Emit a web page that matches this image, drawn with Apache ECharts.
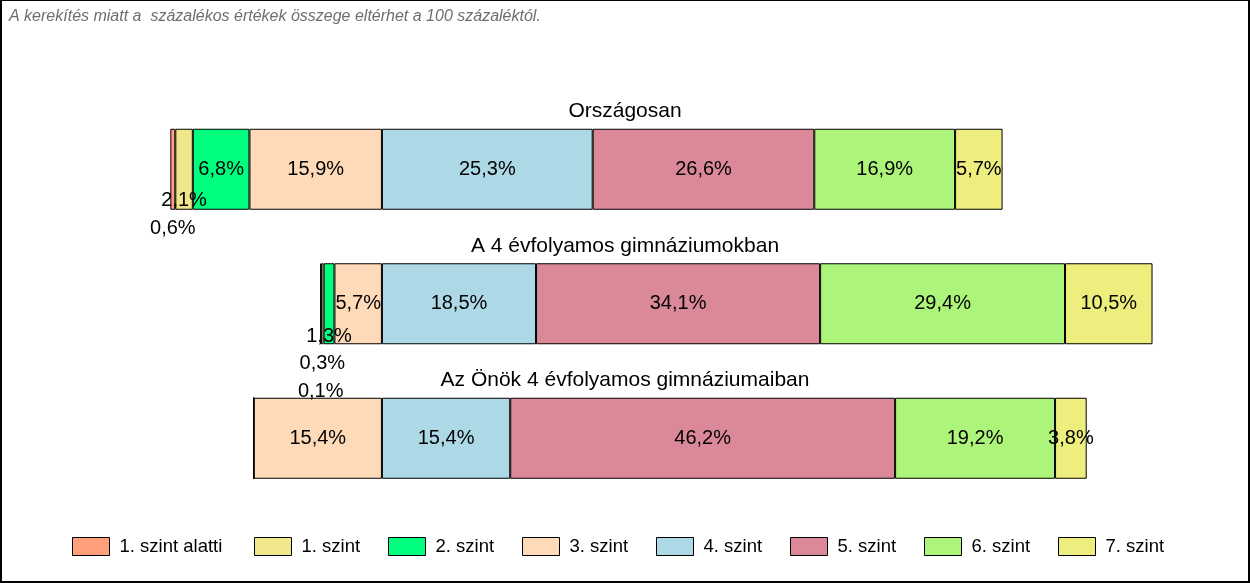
<!DOCTYPE html>
<html>
<head>
<meta charset="utf-8">
<script src="https://cdn.jsdelivr.net/npm/echarts@6/dist/echarts.min.js"></script>
<style>
  html, body { margin: 0; padding: 0; background: #fff; }
  #frame {
    position: relative;
    width: 1250px; height: 583px;
    box-sizing: border-box;
    border: 2px solid #000;
    border-top-width: 1px;
    overflow: hidden;
  }
  #chart { position: absolute; left: -2px; top: -1px; width: 1250px; height: 583px; }
</style>
</head>
<body>
<div id="frame"><div id="chart"></div></div>
<script>
// csoportok (felülről lefelé)
const categories = ['Országosan', 'A 4 évfolyamos gimnáziumokban', 'Az Önök 4 évfolyamos gimnáziumaiban']

// szintek sorrendje a jelmagyarázatban
const levels = ['1. szint alatti', '1. szint', '2. szint', '3. szint', '4. szint', '5. szint', '6. szint', '7. szint']
const colors = ['#FFA07A', '#F0E68C', '#00FF7F', '#FFDAB9', '#ADD8E6', '#DB8898', '#ADF57A', '#EEEE7E']

// százalékos értékek, csoportonként
const szintAlatti = [0.6, 0.1, 0]
const szint1 = [2.1, 0.3, 0]
const szint2 = [6.8, 1.3, 0]
const szint3 = [15.9, 5.7, 15.4]
const szint4 = [25.3, 18.5, 15.4]
const szint5 = [26.6, 34.1, 46.2]
const szint6 = [16.9, 29.4, 19.2]
const szint7 = [5.7, 10.5, 3.8]

const note = 'A kerekítés miatt a  százalékos értékek összege eltérhet a 100 százaléktól.'

const FONT = '"Liberation Sans", Arial, sans-serif'

// a kis szeletek címkéi a sáv alá csúsznak
const labelShift = {
  '1. szint alatti': [59, 88, 0],
  '1. szint': [31, 60, 0],
  '2. szint': [0, 33, 0]
}

// jelmagyarázat elemeinek bal széle
const legendLeft = [72, 254, 388, 522, 656, 790, 924, 1058]

function fmt(v) {
  return Math.abs(v).toFixed(1).replace('.', ',') + '%'
}

function makeSeries(name, values, negative) {
  let shift = labelShift[name]
  return {
    name: name,
    type: 'bar',
    stack: 'total',
    barWidth: 81,
    itemStyle: { color: colors[levels.indexOf(name)], borderColor: '#000', borderWidth: 1 },
    label: {
      show: true,
      position: 'inside',
      color: '#000',
      fontFamily: FONT,
      fontSize: 20,
      formatter: p => p.value === 0 ? '' : fmt(p.value)
    },
    data: values.map((v, i) => {
      let item = { value: negative ? -v : v }
      if (shift && shift[i]) item.label = { offset: [0, shift[i]] }
      return item
    })
  }
}

// balra (negatív irányba) a 3. szinttől kifelé, jobbra a 4. szinttől
const series = [
  makeSeries('3. szint', szint3, true),
  makeSeries('2. szint', szint2, true),
  makeSeries('1. szint', szint1, true),
  makeSeries('1. szint alatti', szintAlatti, true),
  makeSeries('4. szint', szint4, false),
  makeSeries('5. szint', szint5, false),
  makeSeries('6. szint', szint6, false),
  makeSeries('7. szint', szint7, false)
]

const gridTop = 102
const band = 134.5

let titles = categories.map((c, i) => ({
  text: c,
  left: 'center',
  top: gridTop + band * i - 6,
  textStyle: { fontFamily: FONT, fontSize: 21, fontWeight: 'normal', color: '#000' }
}))
titles.push({
  text: note,
  left: 4,
  top: 4,
  textStyle: { fontFamily: FONT, fontSize: 16, fontStyle: 'italic', fontWeight: 'normal', color: '#6E6E6E' }
})

let legends = levels.map((l, i) => ({
  data: [l],
  top: 537,
  left: legendLeft[i],
  padding: 0,
  itemWidth: 37,
  itemHeight: 18,
  icon: 'rect',
  itemStyle: { borderColor: '#000', borderWidth: 1 },
  textStyle: { fontFamily: FONT, fontSize: 18.5, color: '#000', padding: [0, 0, 0, 5] }
}))

let option = {
  animation: false,
  title: titles,
  legend: legends,
  grid: {
    left: 132,
    width: 1083,
    top: gridTop,
    height: band * 3
  },
  xAxis: {
    type: 'value',
    min: -30,
    max: 100,
    show: false
  },
  yAxis: {
    type: 'category',
    data: categories,
    inverse: true,
    show: false
  },
  series: series
}

let chartDom = echarts.init(document.querySelector('#chart'))
chartDom.setOption(option)
</script>
</body>
</html>
